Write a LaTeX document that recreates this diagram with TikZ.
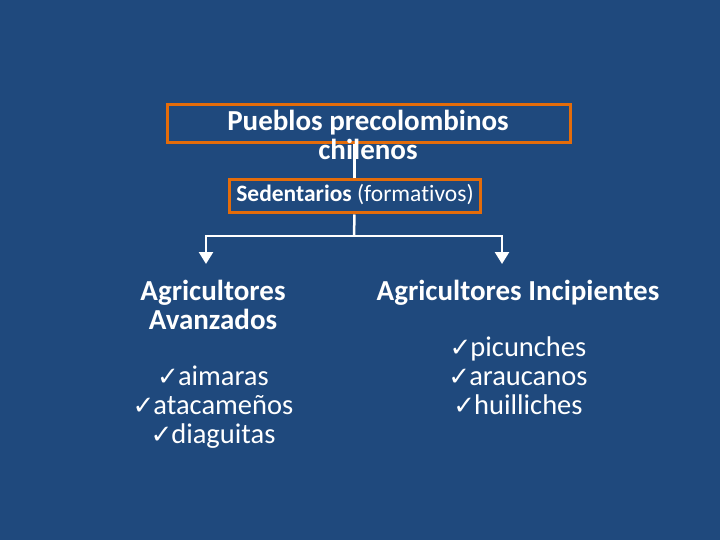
\documentclass[tikz,border=0pt]{standalone}
\usepackage{fontspec}
\setmainfont[Ligatures=NoCommon]{Carlito}
\newfontfamily\symfont{DejaVu Sans}
\usetikzlibrary{arrows.meta}
\definecolor{bg}{RGB}{31,73,125}
\definecolor{orng}{RGB}{228,108,10}
\newcommand{\ck}{{\symfont\fontsize{26}{26}\selectfont ✓}\kern-1pt}
\tikzset{
  obox/.style={draw=orng, line width=3pt, minimum width=#1, inner sep=0pt},
  hd/.style={text=white, anchor=base, inner sep=0pt, font=\fontsize{29}{29}\selectfont\bfseries},
  it/.style={text=white, anchor=base, inner sep=0pt, font=\fontsize{28.5}{29}\selectfont},
  conn/.style={draw=white, line width=2.5pt},
  arr/.style={conn, -{Triangle[width=14pt,length=12pt]}}
}
\begin{document}
\begin{tikzpicture}[x=1pt,y=-1pt]
\fill[bg] (0,0) rectangle (720,540);
\useasboundingbox (0,0) rectangle (720,540);
\node[obox=403pt, minimum height=38pt] (tbox) at (368.5,124) {};
\node[obox=251pt, minimum height=33pt] (sbox) at (354.5,196.5) {};
\draw[conn] (sbox.north) -- (sbox.north |- tbox.south);
\node[hd] (t1) at (368,131) {Pueblos precolombinos};
\node[hd] (t2) at (368,160) {chilenos};
\node[it, font=\fontsize{23.5}{24}\selectfont] (sed) at (355,202) {\textbf{Sedentarios} (formativos)};
\coordinate (br) at (354,236);
\coordinate (aL) at (206,264);
\coordinate (aR) at (502,264);
\draw[conn] (sbox.south) -- (br);
\draw[arr] (br) -| (aL);
\draw[arr] (br) -| (aR);
\node[hd] (l1) at (213,300) {Agricultores};
\node[hd] (l2) at (213,329) {Avanzados};
\node[it] (l3) at (213,385) {\ck aimaras};
\node[it] (l4) at (213,414) {\ck atacameños};
\node[it] (l5) at (213,443) {\ck diaguitas};
\node[hd] (r1) at (518,300) {Agricultores Incipientes};
\node[it] (r2) at (518,356) {\ck picunches};
\node[it] (r3) at (518,385) {\ck araucanos};
\node[it] (r4) at (518,414) {\ck huilliches};
\end{tikzpicture}
\end{document}
